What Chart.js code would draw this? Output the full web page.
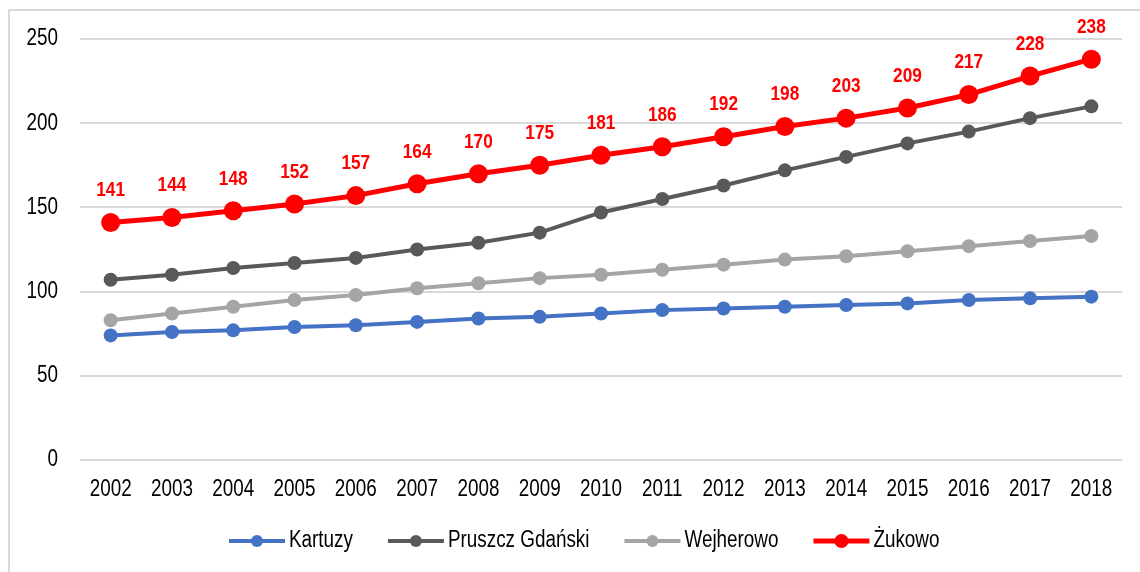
<!DOCTYPE html>
<html>
<head>
<meta charset="utf-8">
<script src="https://cdn.jsdelivr.net/npm/chart.js@4"></script>
<style>
  html, body { margin: 0; padding: 0; background: #fff; }
  #wrap { width: 1140px; height: 572px; position: relative; }
</style>
</head>
<body>
<div id="wrap"><canvas id="chart" width="1140" height="572"></canvas></div>
<script>
const FONT = "'Liberation Sans', Arial, sans-serif";
const NARROW = 0.82; // squeeze to look like Arial Narrow

const years = ['2002', '2003', '2004', '2005', '2006', '2007', '2008', '2009', '2010',
  '2011', '2012', '2013', '2014', '2015', '2016', '2017', '2018'];
const kartuzy = [74, 76, 77, 79, 80, 82, 84, 85, 87, 89, 90, 91, 92, 93, 95, 96, 97];
const pruszcz = [107, 110, 114, 117, 120, 125, 129, 135, 147, 155, 163, 172, 180, 188, 195, 203, 210];
const wejherowo = [83, 87, 91, 95, 98, 102, 105, 108, 110, 113, 116, 119, 121, 124, 127, 130, 133];
const zukowo = [141, 144, 148, 152, 157, 164, 170, 175, 181, 186, 192, 198, 203, 209, 217, 228, 238];
const yTicks = [0, 50, 100, 150, 200, 250];

function series(label, data, color, width, radius) {
  return {
    label: label,
    data: data,
    borderColor: color,
    backgroundColor: color,
    borderWidth: width,
    pointRadius: radius,
    pointHoverRadius: radius,
    pointBorderWidth: 0,
    tension: 0
  };
}

function narrowText(ctx, text, x, y, align) {
  ctx.save();
  ctx.translate(x, y);
  ctx.scale(NARROW, 1);
  ctx.textAlign = align;
  ctx.fillText(text, 0, 0);
  ctx.restore();
}

// frame: light gray top and left edge
const framePlugin = {
  id: 'frame',
  beforeDraw(chart) {
    const ctx = chart.ctx;
    ctx.save();
    ctx.strokeStyle = '#d9d9d9';
    ctx.lineWidth = 2;
    ctx.beginPath();
    ctx.moveTo(9, chart.height);
    ctx.lineTo(9, 10);
    ctx.lineTo(chart.width, 10);
    ctx.stroke();
    ctx.restore();
  }
};

// axis labels in a narrow face
const tickPlugin = {
  id: 'narrowTicks',
  afterDraw(chart) {
    const ctx = chart.ctx;
    const xs = chart.scales.x;
    const ys = chart.scales.y;
    ctx.save();
    ctx.fillStyle = '#000';
    ctx.textBaseline = 'middle';
    ctx.font = '23px ' + FONT;
    ys.ticks.forEach((t, i) => {
      narrowText(ctx, String(t.value), chart.chartArea.left - 22, ys.getPixelForTick(i), 'right');
    });
    xs.ticks.forEach((t, i) => {
      narrowText(ctx, xs.getLabelForValue(t.value), xs.getPixelForTick(i), chart.chartArea.bottom + 30, 'center');
    });
    ctx.restore();
  }
};

// value labels above the Żukowo points
const labelPlugin = {
  id: 'valueLabels',
  afterDatasetsDraw(chart) {
    const ctx = chart.ctx;
    const meta = chart.getDatasetMeta(3);
    const ds = chart.data.datasets[3];
    ctx.save();
    ctx.fillStyle = '#ff0000';
    ctx.font = 'bold 21px ' + FONT;
    ctx.textBaseline = 'middle';
    meta.data.forEach((pt, i) => {
      narrowText(ctx, String(ds.data[i]), pt.x, pt.y - 32, 'center');
    });
    ctx.restore();
  }
};

// legend with line + dot, drawn below the axis
const legendPlugin = {
  id: 'lineLegend',
  afterDraw(chart) {
    const ctx = chart.ctx;
    const y = 541;
    let x = 229;
    ctx.save();
    ctx.font = '23px ' + FONT;
    ctx.textBaseline = 'middle';
    chart.data.datasets.forEach(ds => {
      ctx.strokeStyle = ds.borderColor;
      ctx.fillStyle = ds.borderColor;
      ctx.lineWidth = ds.borderWidth;
      ctx.beginPath();
      ctx.moveTo(x, y);
      ctx.lineTo(x + 56, y);
      ctx.stroke();
      ctx.beginPath();
      ctx.arc(x + 28, y, ds.pointRadius > 8 ? 7 : 6, 0, Math.PI * 2);
      ctx.fill();
      ctx.fillStyle = '#000';
      narrowText(ctx, ds.label, x + 60, y, 'left');
      x += 60 + ctx.measureText(ds.label).width * NARROW + 35;
    });
    ctx.restore();
  }
};

new Chart(document.getElementById('chart'), {
  type: 'line',
  data: {
    labels: years,
    datasets: [
      series('Kartuzy', kartuzy, '#4472c4', 4, 7),
      series('Pruszcz Gdański', pruszcz, '#595959', 4, 7),
      series('Wejherowo', wejherowo, '#a5a5a5', 4, 7),
      series('Żukowo', zukowo, '#ff0000', 5, 9.5)
    ]
  },
  options: {
    responsive: false,
    animation: false,
    devicePixelRatio: 1,
    layout: { padding: { left: 10, right: 18, top: 39, bottom: 62 } },
    plugins: {
      legend: { display: false },
      tooltip: { enabled: false }
    },
    scales: {
      x: {
        offset: true,
        grid: { display: false },
        border: { display: false },
        ticks: { display: false },
        afterFit(scale) { scale.height = 50; }
      },
      y: {
        min: 0,
        max: 250,
        afterBuildTicks(scale) { scale.ticks = yTicks.map(v => ({ value: v })); },
        grid: { color: '#d9d9d9', lineWidth: 2, drawTicks: false },
        border: { display: false },
        ticks: { display: false },
        afterFit(scale) { scale.width = 70; }
      }
    }
  },
  plugins: [framePlugin, tickPlugin, labelPlugin, legendPlugin]
});
</script>
</body>
</html>
